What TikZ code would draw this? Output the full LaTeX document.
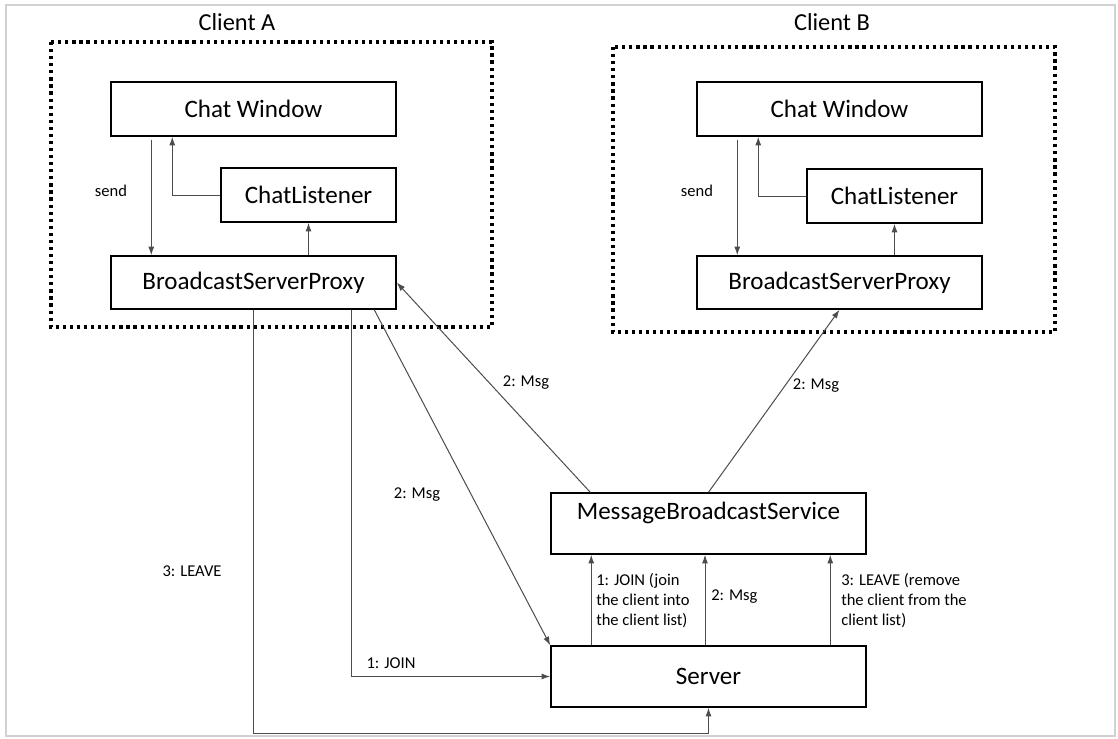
\documentclass[tikz,border=0pt]{standalone}
\usepackage{fontspec}
\setmainfont{Carlito}
\usetikzlibrary{arrows.meta,calc}

\begin{document}
\begin{tikzpicture}[x=0.75pt, y=-0.75pt,
    box/.style={draw=black, line width=1.1pt, inner sep=0pt,
        minimum width=285*0.75pt, minimum height=54*0.75pt,
        font=\fontsize{18.8}{22}\selectfont},
    conn/.style={draw=black!70, line width=0.75pt,
        -{Latex[length=6.5pt,width=4.5pt]}},
    lbl/.style={inner sep=0pt, font=\fontsize{12.4}{15}\selectfont, align=left},
    group/.style={draw=black, line width=2.4pt, dash pattern=on 2.4pt off 2.9pt},
    grouplbl/.style={font=\fontsize{18.3}{22}\selectfont}]
    \useasboundingbox (0,0) rectangle (1118,739);
    \draw[black!18, line width=1.2pt] (6,5) rectangle (1115,736);

    % client A
    \draw[group] (51,42) rectangle (492,327);
    \node[grouplbl] (clientA) at (237,22) {Client A};
    \node[box] (cwA) at (253.5,109) {Chat Window};
    \node[box, minimum width=175*0.75pt] (clA) at (308.5,195) {ChatListener};
    \node[box, minimum height=53*0.75pt] (bspA) at (253.5,282.5) {BroadcastServerProxy};

    % client B
    \draw[group] (613,47) rectangle (1055,332);
    \node[grouplbl] (clientB) at (832,22) {Client B};
    \node[box] (cwB) at (839.5,109) {Chat Window};
    \node[box, minimum width=175*0.75pt] (clB) at (894.5,196) {ChatListener};
    \node[box, minimum height=53*0.75pt] (bspB) at (839.5,282.5) {BroadcastServerProxy};

    % server side
    \node[box, minimum width=315*0.75pt, minimum height=61*0.75pt,
        text height=19.5pt, text depth=26.25pt] (mbs) at (708.5,523.5) {MessageBroadcastService};
    \node[box, minimum width=315*0.75pt, minimum height=61*0.75pt] (server) at (708.5,676.5) {Server};
    \coordinate (bottom) at (0,733);

    % inside the clients
    \foreach \c in {A,B} {
        \draw[conn] ($(cw\c.south west)+(41,3)$) -- ($(bsp\c.north west)+(41,0)$);
        \draw[conn] (cl\c.west) -| ($(cw\c.south west)+(62,0)$);
        \draw[conn] (bsp\c.north -| cl\c.south) -- (cl\c.south);
    }
    \node[lbl] (sendA) at (111,191) {send};
    \node[lbl] (sendB) at (697,191) {send};

    % client A <-> server
    \draw[conn] (bspA.south) |- (server.south |- bottom) -- (server.south);
    \draw[conn] ($(bspA.south west)+(241,0)$) |- (server.west);
    \draw[conn] ($(bspA.south west)+(264,0)$) -- (server.north west);
    \draw[conn] ($(mbs.north west)+(40,0)$) -- (bspA.east);
    \draw[conn] (mbs.north) -- (bspB.south);
    \node[lbl] (leaveA) at (192,571) {3: LEAVE};
    \node[lbl] (joinA) at (391,663) {1: JOIN};
    \node[lbl] (msgA) at (417,495) {2: Msg};
    \node[lbl] (msgBackA) at (526,383) {2: Msg};
    \node[lbl] (msgBackB) at (816,386) {2: Msg};

    % server -> service
    \draw[conn] ($(server.north west)+(41,0)$) -- ($(mbs.south west)+(41,0)$);
    \draw[conn] ($(server.north)+(-3.5,0)$) -- ($(mbs.south)+(-3.5,0)$);
    \draw[conn] ($(server.north west)+(280,0)$) -- ($(mbs.south west)+(280,0)$);
    \node[lbl, anchor=west] (joinS) at (596,601) {1: JOIN (join\\the client into\\the client list)};
    \node[lbl, anchor=west] (msgS) at (711,597) {2: Msg};
    \node[lbl, anchor=west] (leaveS) at (841,601) {3: LEAVE (remove\\the client from the\\client list)};
\end{tikzpicture}
\end{document}
